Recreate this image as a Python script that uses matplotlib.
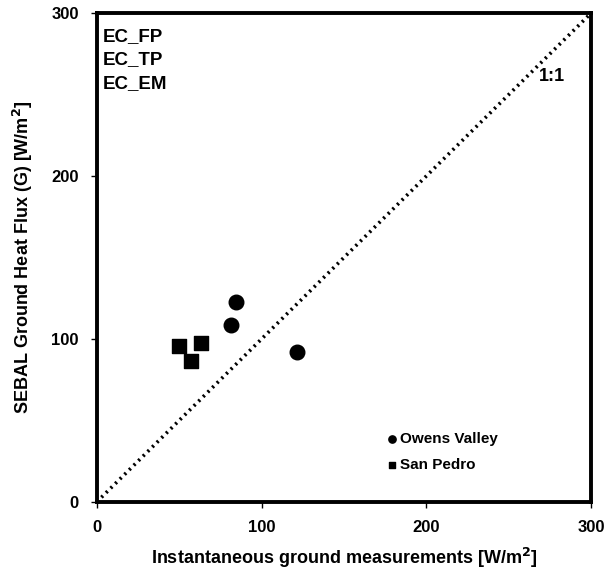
import matplotlib.pyplot as plt

plt.rcParams['font.family'] = ['Liberation Sans', 'DejaVu Sans']
plt.rcParams['font.weight'] = 'bold'

# Owens Valley (circles)
ov_x = [84.7, 81.6, 121.8]
ov_y = [122.9, 108.8, 92.0]
# San Pedro (squares)
sp_x = [50.0, 57.4, 63.0]
sp_y = [95.9, 86.5, 97.4]

site_labels = ['EC_FP', 'EC_TP', 'EC_EM']
ticks = [0, 100, 200, 300]

fig = plt.figure(figsize=(6.05, 5.71), dpi=100)
ax = fig.add_axes([0.160, 0.121, 0.817, 0.856])

ax.plot([0, 300], [0, 300], linestyle=(0, (0.6, 1.2)), color='black', linewidth=2.6, zorder=1)
ax.scatter(ov_x, ov_y, marker='o', s=110, color='black', label='Owens Valley', zorder=3)
ax.scatter(sp_x, sp_y, marker='s', s=100, color='black', label='San Pedro', zorder=3)

ax.set_xlim(0, 300)
ax.set_ylim(0, 300)
ax.set_xticks(ticks)
ax.set_yticks(ticks)
ax.tick_params(direction='out', length=4, width=1, labelsize=12, pad=9)
for s in ax.spines.values():
    s.set_linewidth(2.8)

ax.set_xlabel('Instantaneous ground measurements [W/m$^\\mathbf{2}$]', fontsize=13, fontweight='bold', labelpad=8)
ax.set_ylabel('SEBAL Ground Heat Flux (G) [W/m$^\\mathbf{2}$]', fontsize=13, fontweight='bold', labelpad=12)

for i, lab in enumerate(site_labels):
    ax.text(0.012, 0.952 - i * 0.048, lab, transform=ax.transAxes, fontsize=13.5,
            fontweight='bold', va='center', ha='left')
ax.text(276, 261, '1:1', fontsize=13, fontweight='bold', ha='center', va='center')

leg = ax.legend(loc='center left', bbox_to_anchor=(0.57, 0.102), frameon=False, fontsize=11,
                markerscale=0.5, handletextpad=0.1, handlelength=0.9, labelspacing=0.75,
                borderaxespad=0)

fig.savefig('out.png', dpi=100)
